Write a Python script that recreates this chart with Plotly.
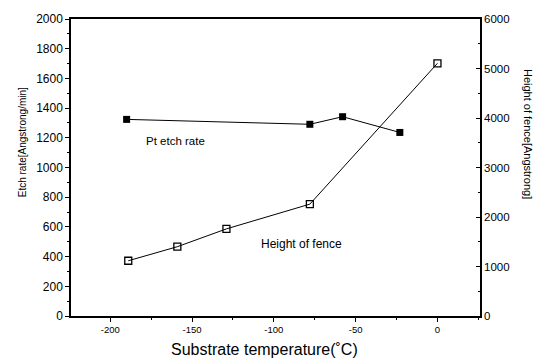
import plotly.graph_objects as go

temp_etch = [-190, -78, -58, -23]
etch_rate = [1324, 1291, 1342, 1236]
temp_fence = [-189, -159, -129, -78, 0]
fence_height = [1116, 1400, 1760, 2260, 5105]
x_ticks = [-200, -150, -100, -50, 0]

fig = go.Figure()
fig.add_trace(go.Scatter(x=temp_etch, y=etch_rate, mode="lines+markers",
                         line=dict(color="black", width=1),
                         marker=dict(symbol="square", size=7, color="black"),
                         showlegend=False))
fig.add_trace(go.Scatter(x=temp_fence, y=fence_height, mode="lines+markers", yaxis="y2",
                         line=dict(color="black", width=1),
                         marker=dict(symbol="square-open", size=7, color="black", line=dict(width=1.3)),
                         showlegend=False))

fig.add_annotation(x=-160, y=1176, text="Pt etch rate", showarrow=False,
                   font=dict(size=11.5, color="black"))
fig.add_annotation(x=-83, y=1455, yref="y2", text="Height of fence", showarrow=False,
                   font=dict(size=12, color="black"))

# axis titles placed as annotations to match the original offsets
fig.add_annotation(x=0.474, y=-0.113, xref="paper", yref="paper",
                   xanchor="center", yanchor="middle",
                   text="Substrate temperature(˚C)", showarrow=False,
                   font=dict(size=16, color="black"))
fig.add_annotation(xref="paper", yref="paper", x=0, y=0.585, xshift=-49,
                   xanchor="center", yanchor="middle",
                   text="Etch rate[Angstrong/min]", textangle=-90, showarrow=False,
                   font=dict(size=10, color="black"))
fig.add_annotation(xref="paper", yref="paper", x=1, y=0.613, xshift=48,
                   xanchor="center", yanchor="middle",
                   text="Height of fence[Angstrong]", textangle=90, showarrow=False,
                   font=dict(size=11, color="black"))

fig.update_layout(
    width=550, height=362,
    margin=dict(l=71, r=70, t=16, b=46),
    paper_bgcolor="white", plot_bgcolor="white",
    font=dict(family="Liberation Sans, Arial, sans-serif", color="black"),
    xaxis=dict(range=[-224, 26], tickvals=x_ticks, ticktext=[str(v) for v in x_ticks],
               showline=True, linecolor="black", linewidth=1.5, mirror=True,
               ticks="outside", ticklen=4, tickcolor="black",
               minor=dict(dtick=25, ticks="outside", ticklen=2, tickcolor="black"),
               showgrid=False, zeroline=False, tickfont=dict(size=9.5, color="black")),
    yaxis=dict(range=[0, 2000], dtick=200, showline=True, linecolor="black", linewidth=1.5,
               ticks="outside", ticklen=4, tickcolor="black",
               minor=dict(dtick=100, ticks="outside", ticklen=2, tickcolor="black"),
               showgrid=False, zeroline=False, tickfont=dict(size=12, color="black")),
    yaxis2=dict(range=[0, 6000], dtick=1000, overlaying="y", side="right",
                showline=True, linecolor="black", linewidth=1.5,
                ticks="inside", ticklen=4, tickcolor="black",
                minor=dict(dtick=500, ticks="inside", ticklen=2, tickcolor="black"),
                showgrid=False, zeroline=False, tickfont=dict(size=11.5, color="black")),
)

fig.write_html("out.html")
